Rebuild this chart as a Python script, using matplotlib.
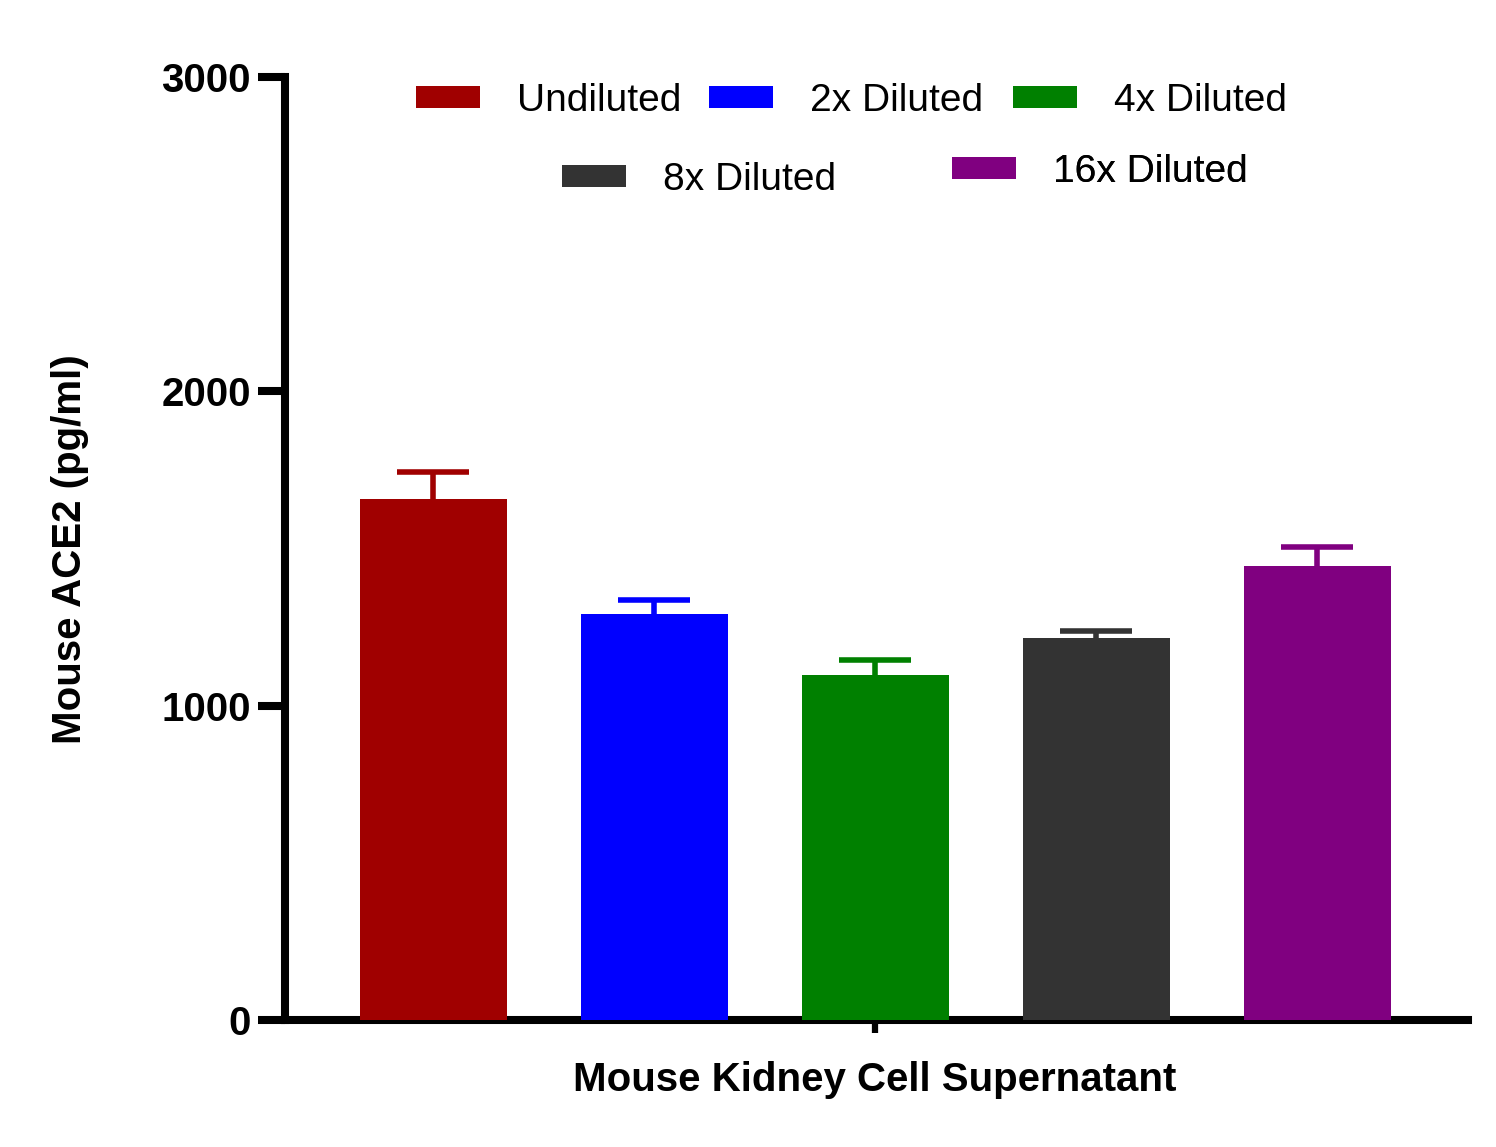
import matplotlib
matplotlib.use("Agg")
import matplotlib.pyplot as plt

plt.rcParams['font.family'] = ['Liberation Sans', 'DejaVu Sans']

# Data
groups = ["Undiluted", "2x Diluted", "4x Diluted", "8x Diluted", "16x Diluted"]
values = [1658, 1292, 1098, 1215, 1444]
errors = [86, 44, 47, 24, 60]
colors = ["#A00000", "#0000FF", "#008000", "#333333", "#800080"]
y_ticks = [0, 1000, 2000, 3000]

fig = plt.figure(figsize=(14.96, 11.47), dpi=100)
ax = fig.add_axes([0.1905, 0.1107, 0.7908, 0.8222])

x = list(range(len(values)))
bars = ax.bar(x, values, width=0.665, color=colors, zorder=3)
for xi, v, e, c in zip(x, values, errors, colors):
    _, caps, _ = ax.errorbar(xi, v, yerr=[[0], [e]], fmt='none', ecolor=c,
                             elinewidth=4, capsize=26, capthick=4, zorder=2)
    caps[0].set_visible(False)  # only the upper cap is shown

ax.set_xlim(-0.67, 4.683)
ax.set_ylim(0, 3000)
ax.set_yticks(y_ticks)
ax.set_yticklabels([str(t) for t in y_ticks], fontsize=29, fontweight='bold')
ax.set_xticks([2])
ax.set_xticklabels([""])

for side in ['top', 'right']:
    ax.spines[side].set_visible(False)
for side in ['left', 'bottom']:
    ax.spines[side].set_linewidth(5.8)
ax.tick_params(axis='y', length=19.5, width=5.8, pad=5)
ax.tick_params(axis='x', length=9.5, width=4.5)

fig.text(70 / 1496, 0.521, "Mouse ACE2 (pg/ml)", rotation=90, ha='center',
         va='center', fontsize=29, fontweight='bold')
fig.text(875 / 1496, 0.058, "Mouse Kidney Cell Supernatant", ha='center',
         va='center', fontsize=29, fontweight='bold')

# legend entries, placed like the original (3 on top, 2 below)
leg_pos = [(0.2781, 0.912), (0.4739, 0.912), (0.6771, 0.912),
           (0.3757, 0.8431), (0.6364, 0.8500)]
for b, name, pos in zip(bars, groups, leg_pos):
    leg = ax.legend([b], [name], loc='center left', bbox_to_anchor=pos,
                    bbox_transform=fig.transFigure, frameon=False, fontsize=28,
                    handlelength=1.65, handleheight=0.5, handletextpad=0.95,
                    borderpad=0, borderaxespad=0)
    ax.add_artist(leg)

plt.savefig("out.png", dpi=100)
